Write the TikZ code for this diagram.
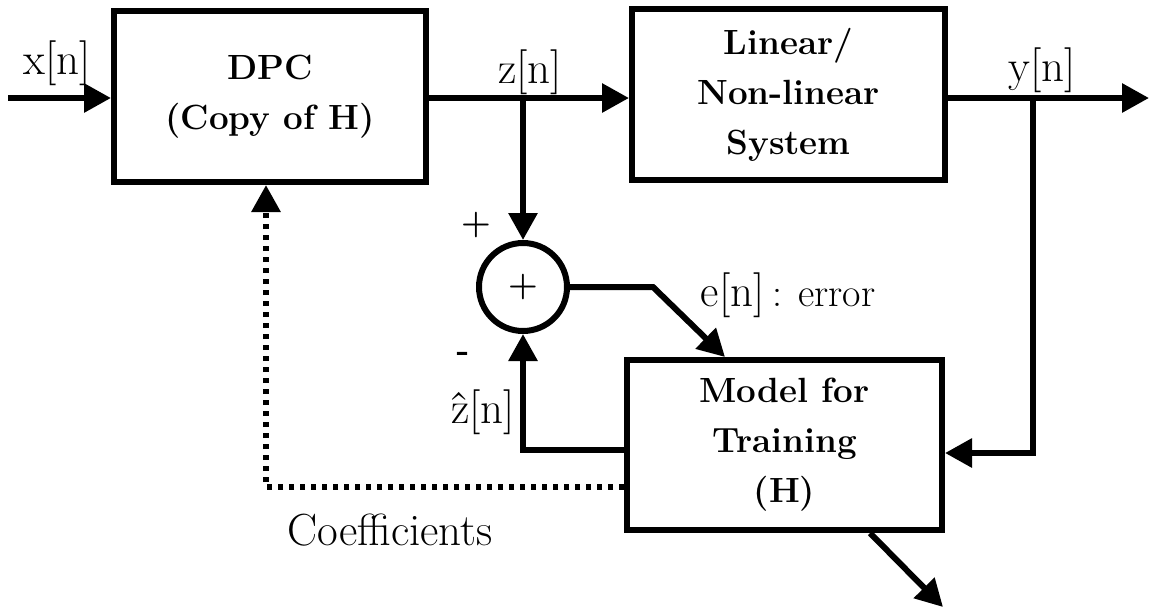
\documentclass[tikz,border=0pt]{standalone}
\usepackage{tikz}
\usetikzlibrary{arrows.meta}

\tikzset{
  blk/.style={draw, line width=3pt, align=center, inner sep=0pt,
    font=\fontsize{17.5}{25}\selectfont\bfseries},
  sumnode/.style={draw, circle, line width=3pt, minimum size=44pt, inner sep=0pt,
    font=\fontsize{17}{20}\selectfont\bfseries},
  lbl/.style={inner sep=0pt, font=\fontsize{22.5}{26}\selectfont},
  sgn/.style={inner sep=0pt, font=\fontsize{17}{20}\selectfont\bfseries},
  sig/.style={line width=3pt, -{Triangle[length=13.5pt,width=14pt]}},
  coef/.style={line width=3pt, dash pattern=on 2.75pt off 2.75pt,
    -{Triangle[length=13.5pt,width=14pt]}},
}

\begin{document}
\begin{tikzpicture}[x=0.5pt,y=0.5pt,yscale=-1]
\useasboundingbox (0,0) rectangle (1151,612);
% blocks
\node[blk, minimum width=156pt, minimum height=85.5pt] (dpc) at (270,96.5) {DPC\\(Copy of H)};
\node[blk, minimum width=156.5pt, minimum height=85.5pt] (sys) at (788.5,94.5) {Linear/\\Non-linear\\System};
\node[blk, minimum width=157.5pt, minimum height=85pt] (model) at (784.5,445) {Model for\\Training\\(H)};
\node[sumnode] (sum) at (523,287) {+};
%Text
\node[lbl] (xlbl) at (57,63) {x[n]};
\node[lbl] (zlbl) at (530,72) {z[n]};
\node[lbl] (ylbl) at (1042,70) {y[n]};
\node[lbl] (elbl) at (788,295) {e[n]\,{\fontsize{20}{24}\selectfont: error}};
\node[lbl] (zhlbl) at (483,412) {\^{z}[n]};
\node[lbl] (clbl) at (390,530) {Coefficients};
\node[sgn] (plus) at (476,225) {+};
\node[sgn] (minus) at (463,357) {-};
% points
\coordinate (xin) at (8,98);
\coordinate (yout) at (1149,98);
\coordinate (yb) at (1033,98);
\coordinate (zb) at (523,98);
\coordinate (ebend) at (653,287);
\coordinate (hout) at (943,607);
% connectors
\draw[sig] (xin) -- (dpc.west |- xin);
\draw[sig] (dpc.east |- xin) -- (sys.west |- xin);
\draw[sig] (sys.east |- xin) -- (yout);
\draw[sig] (yb) |- (model.east |- 0,453);
\draw[sig] (zb) -- (sum.north);
\draw[sig] (sum.east) -- (ebend) -- (725,0 |- model.north);
\draw[sig] (model.west |- 0,450) -| (sum.south);
\draw[coef] (model.west |- 0,487) -| (266,0 |- dpc.south);
\draw[sig] (870,0 |- model.south) -- (hout);
\end{tikzpicture}
\end{document}
